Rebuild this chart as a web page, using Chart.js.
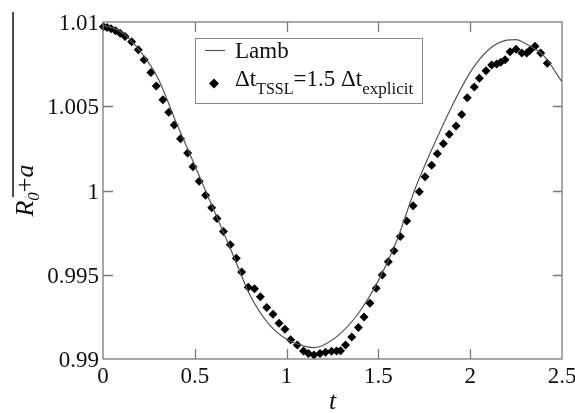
<!DOCTYPE html>
<html>
<head>
<meta charset="utf-8">
<script src="https://cdn.jsdelivr.net/npm/chart.js@4.4.1/dist/chart.umd.min.js"></script>
<style>
  body { margin: 0; background: #fff; }
  canvas { display: block; }
</style>
</head>
<body>
<canvas id="lambChart" width="575" height="413"></canvas>
<script>
// TSSL run (diamonds)
const tsslT = [0.002, 0.022, 0.044, 0.068, 0.093, 0.120, 0.156, 0.192, 0.224, 0.261,
    0.290, 0.326, 0.358, 0.388, 0.422, 0.461, 0.490, 0.524, 0.559, 0.592,
    0.621, 0.656, 0.693, 0.726, 0.755, 0.791, 0.825, 0.857, 0.892, 0.926,
    0.959, 0.991, 1.022, 1.058, 1.092, 1.119, 1.149, 1.182, 1.212, 1.245,
    1.272, 1.294, 1.321, 1.355, 1.391, 1.422, 1.454, 1.488, 1.521, 1.554,
    1.585, 1.619, 1.654, 1.689, 1.723, 1.754, 1.790, 1.821, 1.854, 1.886,
    1.923, 1.954, 1.984, 2.022, 2.050, 2.086, 2.117, 2.144, 2.166, 2.190,
    2.217, 2.250, 2.281, 2.308, 2.326, 2.353, 2.384, 2.420];
const tsslR = [1.00972, 1.00967, 1.00960, 1.00948, 1.00933, 1.00914, 1.00883, 1.00836, 1.00776, 1.00700,
    1.00620, 1.00539, 1.00464, 1.00389, 1.00307, 1.00223, 1.00141, 1.00055, 0.99972, 0.99897,
    0.99834, 0.99757, 0.99678, 0.99598, 0.99516, 0.99426, 0.99417, 0.99370, 0.99306, 0.99265,
    0.99212, 0.99176, 0.99114, 0.99083, 0.99047, 0.99033, 0.99024, 0.99033, 0.99040, 0.99046,
    0.99047, 0.99049, 0.99083, 0.99130, 0.99187, 0.99249, 0.99331, 0.99420, 0.99499, 0.99577,
    0.99643, 0.99727, 0.99819, 0.99910, 0.99993, 1.00082, 1.00150, 1.00218, 1.00278, 1.00334,
    1.00383, 1.00451, 1.00550, 1.00614, 1.00666, 1.00711, 1.00745, 1.00751, 1.00761, 1.00776,
    1.00824, 1.00838, 1.00816, 1.00816, 1.00832, 1.00856, 1.00816, 1.00755];

// Lamb solution (thin line)
const lambT = [0, 0.1, 0.2, 0.3, 0.4, 0.5, 0.6, 0.7, 0.8, 0.9, 1.0, 1.1, 1.15, 1.2,
    1.3, 1.4, 1.5, 1.6, 1.7, 1.8, 1.9, 2.0, 2.1, 2.2, 2.25, 2.3, 2.4, 2.5];
const lambR = [1.0098, 1.0094, 1.0083, 1.00665, 1.0040, 1.00148, 0.99893, 0.99640, 0.99380, 0.99212,
    0.99117, 0.99075, 0.99068, 0.99082, 0.99158, 0.99285, 0.99465, 0.99702, 1.0001, 1.00266,
    1.00499, 1.00701, 1.00835, 1.00892, 1.00895, 1.00872, 1.00800, 1.00645];

const xTicks = [0, 0.5, 1, 1.5, 2, 2.5];
const xTickLabels = ['0', '0.5', '1', '1.5', '2', '2.5'];
const yTicks = [0.99, 0.995, 1, 1.005, 1.01];
const yTickLabels = ['0.99', '0.995', '1', '1.005', '1.01'];

const serif = "'Liberation Serif', 'Times New Roman', serif";
Chart.defaults.font.family = serif;

// frame, inward ticks, legend and axis titles
const decorations = {
    id: 'decorations',
    afterDatasetsDraw(chart) {
        const { ctx, chartArea: a, scales } = chart;
        ctx.save();

        // stray scan border on the far left
        ctx.strokeStyle = '#111';
        ctx.lineWidth = 1.5;
        ctx.beginPath();
        ctx.moveTo(13, 12);
        ctx.lineTo(13, 197);
        ctx.stroke();

        ctx.strokeStyle = '#7a7a7a';
        ctx.lineWidth = 1.3;
        ctx.strokeRect(a.left, a.top, a.right - a.left, a.bottom - a.top);

        ctx.beginPath();
        xTicks.slice(1, -1).forEach(v => {
            const px = Math.round(scales.x.getPixelForValue(v)) + 0.5;
            ctx.moveTo(px, a.bottom); ctx.lineTo(px, a.bottom - 10);
            ctx.moveTo(px, a.top); ctx.lineTo(px, a.top + 10);
        });
        yTicks.slice(1, -1).forEach(v => {
            const py = Math.round(scales.y.getPixelForValue(v)) + 0.5;
            ctx.moveTo(a.left, py); ctx.lineTo(a.left + 10, py);
            ctx.moveTo(a.right, py); ctx.lineTo(a.right - 9, py);
        });
        ctx.stroke();

        // legend box
        ctx.strokeStyle = '#888';
        ctx.lineWidth = 1;
        ctx.strokeRect(195.5, 38.5, 227, 65);
        ctx.strokeStyle = '#555';
        ctx.lineWidth = 1.2;
        ctx.beginPath();
        ctx.moveTo(205, 50.5); ctx.lineTo(225, 50.5);
        ctx.stroke();
        ctx.fillStyle = '#000';
        ctx.beginPath();
        ctx.moveTo(214, 78.5); ctx.lineTo(219, 83.5); ctx.lineTo(214, 88.5); ctx.lineTo(209, 83.5);
        ctx.closePath();
        ctx.fill();

        ctx.fillStyle = '#111';
        ctx.textBaseline = 'alphabetic';
        ctx.textAlign = 'left';
        ctx.font = '23px ' + serif;
        ctx.fillText('Lamb', 235, 58);
        let x = 235;
        const parts = [['\u0394t', 23, 0], ['TSSL', 16, 8], ['=1.5 \u0394t', 23, 0], ['explicit', 17, 8]];
        parts.forEach(([txt, size, dy]) => {
            ctx.font = size + 'px ' + serif;
            ctx.fillText(txt, x, 86 + dy);
            x += ctx.measureText(txt).width;
        });

        // x title
        ctx.font = 'italic 26px ' + serif;
        ctx.textAlign = 'center';
        ctx.fillText('t', (a.left + a.right) / 2, 409);

        // y title, rotated
        ctx.translate(33, (a.top + a.bottom) / 2);
        ctx.rotate(-Math.PI / 2);
        const yParts = [['R', 26, 0, true], ['0', 17, 6, true], ['+', 26, 0, false], ['a', 26, 0, true]];
        let total = 0;
        yParts.forEach(([txt, size, dy, it]) => {
            ctx.font = (it ? 'italic ' : '') + size + 'px ' + serif;
            total += ctx.measureText(txt).width;
        });
        let yx = -total / 2;
        ctx.textAlign = 'left';
        yParts.forEach(([txt, size, dy, it]) => {
            ctx.font = (it ? 'italic ' : '') + size + 'px ' + serif;
            ctx.fillText(txt, yx, dy);
            yx += ctx.measureText(txt).width;
        });

        ctx.restore();
    }
};

const ctx = document.getElementById('lambChart');
new Chart(ctx, {
    type: 'scatter',
    data: {
        datasets: [
            {
                label: 'Lamb',
                data: lambT.map((t, i) => ({ x: t, y: lambR[i] })),
                showLine: true,
                borderColor: '#555',
                borderWidth: 1.2,
                pointRadius: 0,
                cubicInterpolationMode: 'monotone',
                fill: false
            },
            {
                label: 'TSSL',
                data: tsslT.map((t, i) => ({ x: t, y: tsslR[i] })),
                showLine: false,
                pointStyle: 'rectRot',
                pointRadius: 4.5,
                backgroundColor: '#000',
                borderColor: '#000',
                borderWidth: 0,
                clip: false
            }
        ]
    },
    options: {
        responsive: false,
        animation: false,
        devicePixelRatio: 1,
        layout: { padding: { top: 22, right: 13, left: 0, bottom: 0 } },
        plugins: {
            legend: { display: false },
            tooltip: { enabled: false }
        },
        scales: {
            x: {
                type: 'linear',
                min: 0,
                max: 2.5,
                afterBuildTicks: scale => { scale.ticks = xTicks.map(v => ({ value: v })); },
                afterFit: scale => {
                    scale.height = 54;
                    scale.paddingLeft = 0;
                    scale.paddingRight = 0;
                },
                grid: { display: false, drawTicks: false, tickLength: 0 },
                border: { display: false },
                ticks: {
                    padding: 4,
                    color: '#111',
                    maxRotation: 0,
                    font: { family: serif, size: 23 },
                    callback: (v) => xTickLabels[xTicks.indexOf(v)]
                }
            },
            y: {
                type: 'linear',
                min: 0.99,
                max: 1.01,
                afterBuildTicks: scale => { scale.ticks = yTicks.map(v => ({ value: v })); },
                afterFit: scale => {
                    scale.width = 103;
                    scale.paddingTop = 0;
                    scale.paddingBottom = 0;
                },
                grid: { display: false, drawTicks: false, tickLength: 0 },
                border: { display: false },
                ticks: {
                    padding: 4,
                    labelOffset: 2,
                    color: '#111',
                    font: { family: serif, size: 23 },
                    callback: (v) => yTickLabels[yTicks.indexOf(v)]
                }
            }
        }
    },
    plugins: [decorations]
});
</script>
</body>
</html>
